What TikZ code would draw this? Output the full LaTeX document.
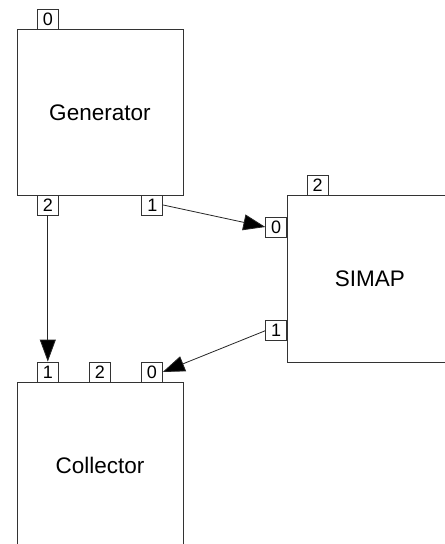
\documentclass[tikz,border=0pt]{standalone}
\usepackage{fontspec}
\setmainfont{Liberation Sans}
\usetikzlibrary{arrows.meta}
\tikzset{
  blockbox/.style={draw=black!80, line width=0.8bp, fill=white, minimum width=166bp, minimum height=166bp, inner sep=0pt, anchor=north west, font=\fontsize{22.5bp}{26bp}\selectfont},
  portbox/.style={draw=black!80, line width=0.8bp, fill=white, minimum width=21bp, minimum height=20bp, inner sep=0pt, font=\fontsize{18bp}{20bp}\selectfont},
  link/.style={draw=black!85, line width=0.8bp, -{Triangle[length=22bp,width=16bp,fill=black]}}
}
\begin{document}
\begin{tikzpicture}[x=1bp,y=-1bp]
\clip (0,0) rectangle (445,544);
\fill[white] (0,0) rectangle (445,544);
% blocks
\node[blockbox] (gen) at (16.5,29) {Generator};
\node[blockbox] (simap) at (286.5,195.5) {SIMAP};
\node[blockbox] (coll) at (16.5,382.3) {Collector};
% generator ports
\node[portbox] (g0) at (47.8,19) {0};
\node[portbox] (g2) at (47.8,205) {2};
\node[portbox] (g1) at (152.3,205) {1};
% simap ports
\node[portbox] (s2) at (317.6,185.2) {2};
\node[portbox] (s0) at (276.2,227) {0};
\node[portbox] (s1) at (276.2,330.7) {1};
% collector ports
\node[portbox] (c1) at (47.8,372) {1};
\node[portbox] (c2) at (99.8,372) {2};
\node[portbox] (c0) at (151.8,372) {0};
% connectors
\draw[link] (g2.south) -- (c1.north);
\draw[link] (g1.east) -- (s0.west);
\draw[link] (s1.west) -- (c0.east);
\end{tikzpicture}
\end{document}
